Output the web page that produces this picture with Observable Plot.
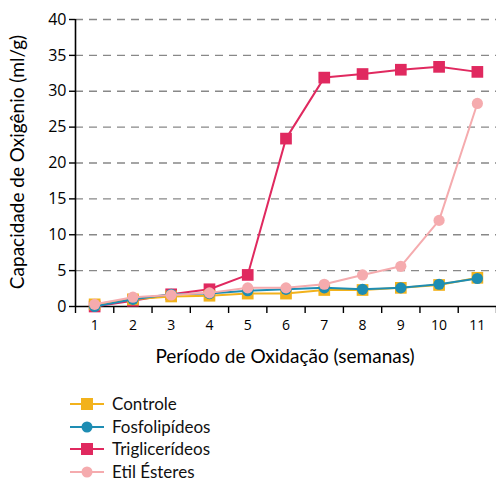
<!DOCTYPE html>
<html>
<head>
<meta charset="utf-8">
<script src="https://cdn.jsdelivr.net/npm/d3@7"></script>
<script src="https://cdn.jsdelivr.net/npm/@observablehq/plot@0.6"></script>
<style>
  html, body { margin: 0; padding: 0; background: #fff; }
  #chart svg { display: block; }
  .legend { font-family: Lato, "Open Sans", sans-serif; font-size: 17px; line-height: 20px; color: #111; margin-left: 70px; margin-top: 18px; }
  .legend .row { display: flex; align-items: center; height: 22.5px; }
  .legend svg { margin-right: 4px; }
</style>
</head>
<body>
<div id="chart"></div>
<div class="legend" id="legend"></div>
<script>
const weeks = [1, 2, 3, 4, 5, 6, 7, 8, 9, 10, 11];
const controle = [0.3, 1.0, 1.4, 1.5, 1.8, 1.8, 2.3, 2.3, 2.6, 3.0, 4.0];
const fosfolipideos = [0.0, 1.0, 1.7, 1.8, 2.2, 2.4, 2.6, 2.4, 2.6, 3.1, 3.9];
const triglicerideos = [0.0, 0.8, 1.7, 2.4, 4.4, 23.4, 31.9, 32.4, 33.0, 33.4, 32.7];
const etilEsteres = [0.3, 1.3, 1.6, 1.9, 2.6, 2.6, 3.1, 4.4, 5.6, 12.0, 28.3];
const yTicks = [0, 5, 10, 15, 20, 25, 30, 35, 40];
const gridTicks = [5, 10, 15, 20, 25, 30, 35, 40];
const xBoundaries = [0.5, 1.5, 2.5, 3.5, 4.5, 5.5, 6.5, 7.5, 8.5, 9.5, 10.5, 11.5];

const series = [
  {name: "Controle", values: controle, color: "#F2B21C", symbol: "square"},
  {name: "Fosfolipídeos", values: fosfolipideos, color: "#1E8DB3", symbol: "circle"},
  {name: "Triglicerídeos", values: triglicerideos, color: "#E0295F", symbol: "square"},
  {name: "Etil Ésteres", values: etilEsteres, color: "#F5ABAE", symbol: "circle"}
];
const drawOrder = ["Triglicerídeos", "Controle", "Fosfolipídeos", "Etil Ésteres"];

const marks = [
  Plot.ruleY(gridTicks, {stroke: "#888", strokeWidth: 1.3, strokeDasharray: "8,6"}),
  Plot.axisY({ticks: yTicks, tickSize: 6, tickPadding: 3, fontSize: 16, stroke: "#000", strokeOpacity: 1, strokeWidth: 1.4, label: null}),
  Plot.axisX({ticks: xBoundaries, tickSize: 7, tickFormat: () => "", stroke: "#000", strokeOpacity: 1, strokeWidth: 1.4, label: null}),
  Plot.axisX({ticks: weeks, tickSize: 0, tickPadding: 14, fontSize: 14, label: null}),
  Plot.ruleX([0.5], {stroke: "#000", strokeWidth: 1.6}),
  Plot.ruleY([0], {stroke: "#000", strokeWidth: 1.6})
];
for (const name of drawOrder) {
  const s = series.find(d => d.name === name);
  const data = weeks.map((w, i) => ({week: w, value: s.values[i]}));
  marks.push(Plot.line(data, {x: "week", y: "value", stroke: s.color, strokeWidth: 2}));
  marks.push(Plot.dot(data, {x: "week", y: "value", fill: s.color, symbol: s.symbol, r: s.symbol === "square" ? 6.6 : 5.6, stroke: "none"}));
}

const plot = Plot.plot({
  width: 496,
  height: 375,
  marginLeft: 75,
  marginRight: 0,
  marginTop: 19,
  marginBottom: 69,
  x: {type: "linear", domain: [0.5, 11.5]},
  y: {domain: [0, 40]},
  style: {fontFamily: "'Open Sans', sans-serif", color: "#000", background: "#fff", overflow: "visible"},
  marks
});
const svg = d3.select(plot);
svg.append("text")
  .attr("x", 285).attr("y", 363)
  .attr("text-anchor", "middle")
  .style("font-family", "Lato, 'Open Sans', sans-serif")
  .style("font-size", "19px")
  .text("Período de Oxidação (semanas)");
svg.append("text")
  .attr("transform", "translate(24,162) rotate(-90)")
  .attr("text-anchor", "middle")
  .style("font-family", "Lato, 'Open Sans', sans-serif")
  .style("font-size", "19px")
  .text("Capacidade de Oxigênio (ml/g)");
document.getElementById("chart").appendChild(plot);

const legend = d3.select("#legend");
for (const s of series) {
  const row = legend.append("div").attr("class", "row");
  const ls = row.append("svg").attr("width", 38).attr("height", 20);
  ls.append("line").attr("x1", 0).attr("x2", 34).attr("y1", 10).attr("y2", 10).attr("stroke", s.color).attr("stroke-width", 2);
  if (s.symbol === "square") {
    ls.append("rect").attr("x", 11).attr("y", 4).attr("width", 12).attr("height", 12).attr("fill", s.color);
  } else {
    ls.append("circle").attr("cx", 17).attr("cy", 10).attr("r", 5.5).attr("fill", s.color);
  }
  row.append("span").text(s.name);
}
</script>
</body>
</html>
